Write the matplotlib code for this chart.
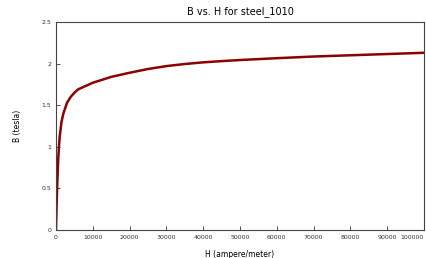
import numpy as np
import matplotlib
matplotlib.use('Agg')
import matplotlib.pyplot as plt

# B-H curve
H = [0, 200, 400, 600, 800, 1000, 1500, 2000, 3000, 4000, 5000, 6000, 8000,
     10000, 15000, 20000, 25000, 30000, 35000, 40000, 45000, 50000, 60000,
     70000, 80000, 90000, 100000]
B = [0, 0.35, 0.62, 0.85, 1.0, 1.12, 1.3, 1.40, 1.53, 1.60, 1.65, 1.69, 1.73,
     1.77, 1.84, 1.89, 1.935, 1.97, 1.995, 2.015, 2.03, 2.043, 2.065,
     2.085, 2.10, 2.115, 2.13]

xticks = [0, 10000, 20000, 30000, 40000, 50000, 60000, 70000, 80000, 90000, 100000]
yticks = [0, 0.5, 1, 1.5, 2, 2.5]
ytick_labels = ['0', '0.5', '1', '1.5', '2', '2.5']

plt.rcParams['font.family'] = 'DejaVu Sans'

fig = plt.figure(figsize=(4.27, 2.58), dpi=100)
ax = fig.add_axes([56/427, 1 - 230/258, 368/427, 208/258])

ax.plot(H, B, color='#8b0000', linewidth=1.8)

ax.set_xlim(0, 100000)
ax.set_ylim(0, 2.5)
ax.set_xticks(xticks)
ax.set_xticklabels([str(v) for v in xticks])
ax.set_yticks(yticks)
ax.set_yticklabels(ytick_labels)
ax.tick_params(direction='in', length=3, width=0.6, labelsize=4.5, colors='#333333')
# keep the last label inside the picture
ax.get_xticklabels()[-1].set_horizontalalignment('right')

for s in ax.spines.values():
    s.set_color('#444444')
    s.set_linewidth(0.8)

ax.set_title('B vs. H for steel_1010', fontsize=7, pad=6)
ax.set_xlabel('H (ampere/meter)', fontsize=5.5, labelpad=7)
ax.set_ylabel('B (tesla)', fontsize=5.5, labelpad=14)

fig.savefig('out.png', dpi=100)
